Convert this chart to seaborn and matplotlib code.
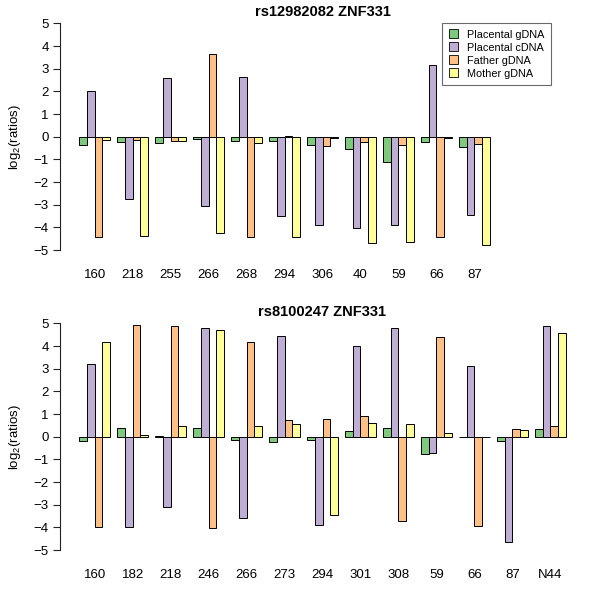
import numpy as np
import pandas as pd
import matplotlib
matplotlib.use("Agg")
import matplotlib.pyplot as plt
import seaborn as sns
from matplotlib.patches import Patch

series = ["Placental gDNA", "Placental cDNA", "Father gDNA", "Mother gDNA"]
colors = ["#7FC97F", "#BEAED4", "#FDC086", "#FFFF99"]

top_title = "rs12982082 ZNF331"
top_labels = ["160", "218", "255", "266", "268", "294", "306", "40", "59", "66", "87"]
top_plac_g = [-0.37, -0.24, -0.28, -0.10, -0.19, -0.19, -0.38, -0.54, -1.12, -0.21, -0.43]
top_plac_c = [2.03, -2.75, 2.59, -3.06, 2.62, -3.51, -3.90, -4.03, -3.90, 3.18, -3.46]
top_father = [-4.41, -0.15, -0.19, 3.65, -4.41, 0.03, -0.41, -0.24, -0.37, -4.44, -0.32]
top_mother = [-0.15, -4.37, -0.19, -4.25, -0.29, -4.44, -0.07, -4.69, -4.62, -0.06, -4.78]

bot_title = "rs8100247 ZNF331"
bot_labels = ["160", "182", "218", "246", "266", "273", "294", "301", "308", "59", "66", "87", "N44"]
bot_plac_g = [-0.19, 0.37, 0.03, 0.40, -0.13, -0.22, -0.13, 0.25, 0.40, -0.77, 0.0, -0.19, 0.35]
bot_plac_c = [3.23, -3.96, -3.10, 4.79, -3.60, 4.45, -3.88, 4.02, 4.79, -0.71, 3.14, -4.65, 4.87]
bot_father = [-3.99, 4.93, 4.88, -4.01, 4.19, 0.74, 0.80, 0.93, -3.72, 4.40, -3.95, 0.34, 0.46]
bot_mother = [4.20, 0.09, 0.46, 4.73, 0.47, 0.56, -3.46, 0.63, 0.55, 0.18, 0.0, 0.30, 4.57]


def long_df(labels, cols):
    rows = []
    for s, vals in zip(series, cols):
        for lab, v in zip(labels, vals):
            rows.append({"sample": lab, "series": s, "value": v})
    return pd.DataFrame(rows)


sns.set_style("white")
plt.rcParams["font.family"] = ["Liberation Sans", "DejaVu Sans"]
plt.rcParams["mathtext.default"] = "regular"
for k in ["text.color", "axes.labelcolor", "xtick.color", "ytick.color"]:
    plt.rcParams[k] = "black"

fig = plt.figure(figsize=(6, 6), dpi=100)
ax_top = fig.add_axes([0.1, 0.568, 0.875, 0.408])
ax_bot = fig.add_axes([0.1, 0.068, 0.875, 0.408])

panels = [
    (ax_top, top_labels, [top_plac_g, top_plac_c, top_father, top_mother], top_title, 12.5),
    (ax_bot, bot_labels, [bot_plac_g, bot_plac_c, bot_father, bot_mother], bot_title, 311.5),
]

for ax, labels, cols, title, ty in panels:
    df = long_df(labels, cols)
    sns.barplot(data=df, x="sample", y="value", hue="series", order=labels,
                hue_order=series, palette=colors, saturation=1, ax=ax,
                edgecolor="black", linewidth=0.7, errorbar=None, legend=False)
    ax.set_xlim(-0.912, 12.912)
    ax.set_ylim(-5.4, 5.4)
    ax.set_yticks(range(-5, 6))
    ax.set_xlabel("")
    ax.set_ylabel("log$_2$(ratios)", fontsize=9.5, labelpad=8)
    for sp in ["top", "right", "bottom"]:
        ax.spines[sp].set_visible(False)
    ax.spines["left"].set_bounds(-5, 5)
    ax.spines["left"].set_color("#222222")
    ax.spines["left"].set_linewidth(0.8)
    ax.tick_params(axis="y", length=5, width=0.8, color="#222222", labelsize=9.5, pad=3, left=True)
    ax.tick_params(axis="x", length=0, labelsize=9.5, pad=7)
    fig.text(322.5 / 600, 1 - ty / 600, title, ha="center", va="center",
             fontsize=10.5, fontweight="bold", color="black")

handles = [Patch(facecolor=c, edgecolor="black", linewidth=0.6, label=s) for s, c in zip(series, colors)]
leg = fig.legend(handles=handles, loc="upper right", bbox_to_anchor=(551 / 600, 1 - 23 / 600),
                 bbox_transform=fig.transFigure, fontsize=7.8, frameon=True, fancybox=False,
                 handlelength=0.9, handleheight=0.9, handletextpad=0.8, borderpad=0.6,
                 labelspacing=0.25, borderaxespad=0)
leg.get_frame().set_edgecolor("#444444")
leg.get_frame().set_linewidth(0.8)

fig.savefig("out.png", dpi=100)
